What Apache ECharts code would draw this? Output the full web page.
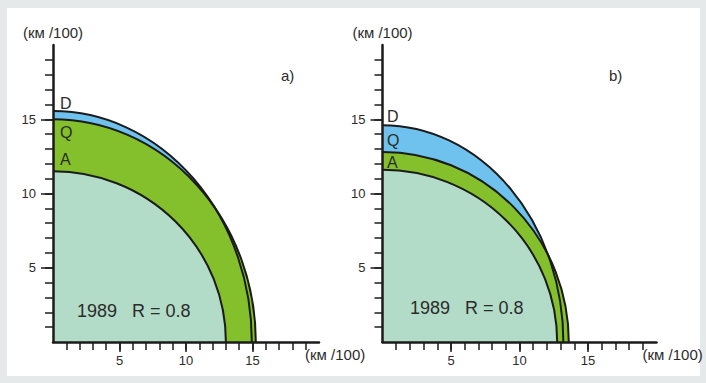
<!DOCTYPE html>
<html>
<head>
<meta charset="utf-8">
<style>
  html, body { margin: 0; padding: 0; background: #e6e9e9; }
  #chart { width: 706px; height: 383px; }
</style>
<script src="https://cdn.jsdelivr.net/npm/echarts@6/dist/echarts.min.js"></script>
</head>
<body>
<div id="chart"></div>
<script>
// Quarter-ellipse layers, outer to inner draw order: D, Q, A.
// Semi-axes in km/100: [along x, along y].
const layerNames = ['D', 'Q', 'A'];
const panelASemiX = [14.95, 15.25, 13.0];
const panelASemiY = [15.55, 15.0, 11.5];
const panelBSemiX = [13.2, 13.6, 12.75];
const panelBSemiY = [14.6, 12.8, 11.6];
const majorTicks = [5, 10, 15];
const minorTicks = [1, 2, 3, 4, 5, 6, 7, 8, 9, 10, 11, 12, 13, 14, 15, 16, 17, 18, 19];
const axisMax = 20;

const FONT = 'Liberation Sans, Arial, sans-serif';
const INK = '#1b1b1b';
const TEXT = '#2b2b2b';
const FILLS = { D: '#6fc2ee', Q: '#83c02b', A: '#b3dcc8' };

const chart = echarts.init(document.getElementById('chart'), null, { renderer: 'svg' });

function rows(semiX, semiY) {
  return layerNames.map((n, i) => [semiX[i], semiY[i], i]);
}

// ellipse quarter from (0,b) to (a,0) through the axis scales
function arcParts(api) {
  const a = api.value(0), b = api.value(1);
  const o = api.coord([0, 0]);
  const top = api.coord([0, b]);
  const right = api.coord([a, 0]);
  const rx = right[0] - o[0], ry = o[1] - top[1];
  return { o, top, right, rx, ry };
}

function fillItem(params, api) {
  const p = arcParts(api);
  const name = layerNames[api.value(2)];
  return {
    type: 'path',
    shape: { pathData: 'M' + p.o[0] + ' ' + p.o[1] + ' L' + p.top[0] + ' ' + p.top[1] +
      ' A' + p.rx + ' ' + p.ry + ' 0 0 1 ' + p.right[0] + ' ' + p.right[1] + ' Z' },
    style: { fill: FILLS[name], stroke: null },
  };
}

function lineItem(params, api) {
  const p = arcParts(api);
  return {
    type: 'path',
    shape: { pathData: 'M' + p.top[0] + ' ' + p.top[1] +
      ' A' + p.rx + ' ' + p.ry + ' 0 0 1 ' + p.right[0] + ' ' + p.right[1] },
    style: { fill: null, stroke: INK, lineWidth: 2 },
  };
}

const tickStyle = { color: INK, width: 1.5 };

// main axis: line, labels, short ticks at every unit
function mainAxis(isX, gridIndex) {
  const ax = {
    type: 'value', min: 0, max: axisMax, interval: 5, gridIndex, z: 10,
    splitLine: { show: false },
    axisLine: { show: true, onZero: false, lineStyle: { color: INK, width: 2.5 } },
    axisTick: { show: true, inside: false, customValues: minorTicks, length: 8,
      lineStyle: tickStyle },
    axisLabel: { customValues: majorTicks, color: TEXT, fontFamily: FONT, fontSize: 13,
      margin: isX ? 12 : 17 },
    name: '(км /100)',
    nameLocation: 'end',
    nameGap: 5,
    nameTextStyle: { color: TEXT, fontFamily: FONT, fontSize: 15 },
  };
  if (isX) {
    ax.nameGap = -14;
    ax.nameTextStyle = { color: TEXT, fontFamily: FONT, fontSize: 15,
      align: 'left', verticalAlign: 'top', padding: [5, 0, 0, 0] };
  }
  return ax;
}

// overlay axis: only the longer ticks at 5, 10, 15
function majorAxis(isX, gridIndex) {
  return {
    type: 'value', min: 0, max: axisMax, interval: 5, gridIndex, z: 10,
    position: isX ? 'bottom' : 'left', offset: 0,
    splitLine: { show: false },
    axisLine: { show: false, onZero: false },
    axisTick: { show: true, inside: false, customValues: majorTicks, length: isX ? 10 : 12,
      lineStyle: tickStyle },
    axisLabel: { show: false },
  };
}

function txt(x, y, s, size, align) {
  return { type: 'text', x, y, z: 100, silent: true,
    style: { text: s, fill: TEXT, font: size + 'px ' + FONT,
      textAlign: align || 'left', textVerticalAlign: 'middle' } };
}

chart.setOption({
  animation: false,
  grid: [
    { left: 53, top: 45, width: 266, height: 297 },
    { left: 382.5, top: 45, width: 274, height: 297 },
  ],
  xAxis: [mainAxis(true, 0), mainAxis(true, 1), majorAxis(true, 0), majorAxis(true, 1)],
  yAxis: [mainAxis(false, 0), mainAxis(false, 1), majorAxis(false, 0), majorAxis(false, 1)],
  graphic: [
    { type: 'rect', z: -10, silent: true, shape: { x: 7, y: 8, width: 693, height: 368 },
      style: { fill: '#ffffff' } },
    txt(281, 75, 'a)', 15),
    txt(609, 75, 'b)', 15),
    txt(60, 103, 'D', 16), txt(60, 132, 'Q', 16), txt(60, 159, 'A', 16),
    txt(387, 116, 'D', 16), txt(387, 140, 'Q', 16), txt(387, 162, 'A', 16),
    txt(77, 311, '1989   R = 0.8', 18),
    txt(410, 308, '1989   R = 0.8', 18),
  ],
  series: [
    { type: 'custom', xAxisIndex: 0, yAxisIndex: 0, silent: true, z: 1,
      renderItem: fillItem, data: rows(panelASemiX, panelASemiY) },
    { type: 'custom', xAxisIndex: 0, yAxisIndex: 0, silent: true, z: 2,
      renderItem: lineItem, data: rows(panelASemiX, panelASemiY) },
    { type: 'custom', xAxisIndex: 1, yAxisIndex: 1, silent: true, z: 1,
      renderItem: fillItem, data: rows(panelBSemiX, panelBSemiY) },
    { type: 'custom', xAxisIndex: 1, yAxisIndex: 1, silent: true, z: 2,
      renderItem: lineItem, data: rows(panelBSemiX, panelBSemiY) },
  ],
});
</script>
</body>
</html>
